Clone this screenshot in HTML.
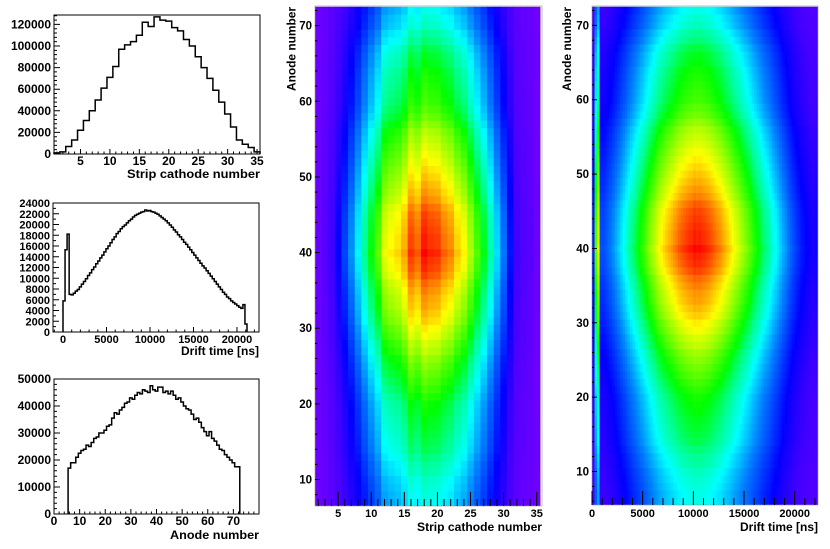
<!DOCTYPE html>
<html><head><meta charset="utf-8"><style>
html,body{margin:0;padding:0;background:#fff;}
svg{display:block;font-family:"Liberation Sans",Arial,sans-serif;font-weight:bold;}
</style></head><body>
<svg id="fig" width="830" height="549" viewBox="0 0 830 549" xmlns="http://www.w3.org/2000/svg">
<rect x="0" y="0" width="830" height="549" fill="#fff"/>
</svg>
<script>
// ---------- data ----------
const stripCounts=[1000,2000,7000,13000,22000,31000,40000,50000,61000,71000,81000,97000,101000,104000,110000,122000,118000,127000,124000,123000,117000,114000,106000,100000,90000,80000,70000,59000,48000,37000,25000,13000,9000,6000,2000]; // strips 1..35
const driftCounts=[5800,15300,18200,7000,6900,7200,7600,7900,8400,8900,9400,9900,10500,11000,11600,12100,12700,13200,13800,14300,14900,15500,16000,16600,17200,17700,18300,18700,19200,19600,19900,20300,20700,21000,21400,21700,21900,22100,22300,22400,22700,22500,22600,22400,22300,22100,21900,21600,21300,21000,20700,20300,19900,19500,19000,18600,18100,17700,17200,16700,16300,15800,15300,14800,14300,13800,13300,12800,12300,11900,11400,10900,10400,9900,9400,8900,8400,7900,7400,7000,6500,6200,5800,5500,5200,4900,4600,4400,5100,1500]; // drift-time bins from 0
const anodeCounts=[17000,19000,19000,21000,22500,23500,24000,25500,25000,26500,28000,28500,30000,30000,31000,32500,33000,35500,37500,37000,38500,39500,41000,41500,43000,42500,44000,45000,44500,46000,45500,45000,47500,46000,45500,47000,47000,45000,45500,44500,45500,44000,42500,43000,41500,40000,39000,38500,37000,35000,35500,34000,32000,30500,29000,30500,28000,27000,25500,24000,23500,22000,21000,20000,19000,17500,17500]; // anode 6..72
const rowPeak=[0.42,0.42,0.43,0.44,0.45,0.47,0.48,0.5,0.52,0.53,0.54,0.55,0.56,0.57,0.58,0.6,0.62,0.64,0.66,0.68,0.7,0.73,0.75,0.78,0.8,0.83,0.85,0.87,0.88,0.9,0.92,0.95,0.97,0.98,1.0,0.98,0.98,0.97,0.96,0.95,0.93,0.9,0.88,0.86,0.84,0.82,0.8,0.78,0.76,0.74,0.72,0.69,0.66,0.64,0.62,0.61,0.6,0.59,0.58,0.56,0.55,0.53,0.5,0.48,0.45,0.44,0.42]; // anode 6..72
const stripTicks=[5,10,15,20,25,30,35];
const stripCountTicks=[0,20000,40000,60000,80000,100000,120000];
const driftTicks=[0,5000,10000,15000,20000];
const driftCountTicks=[0,2000,4000,6000,8000,10000,12000,14000,16000,18000,20000,22000,24000];
const anodeTicks=[0,10,20,30,40,50,60,70];
const anodeCountTicks=[0,10000,20000,30000,40000,50000];
const heatAnodeTicks=[10,20,30,40,50,60,70];
const firstStrip=1, firstAnode=6, driftBin=235, heatDriftBin=250;

// ---------- helpers ----------
const NS="http://www.w3.org/2000/svg";
const svg=document.getElementById('fig');
function mk(tag,attrs,parent){const e=document.createElementNS(NS,tag);for(const k in attrs)e.setAttribute(k,attrs[k]);(parent||svg).appendChild(e);return e;}
function lin(d0,d1,p0,p1){return v=>p0+(v-d0)*(p1-p0)/(d1-d0);}
const stops=[[0,[112,0,255]],[0.1,[64,0,255]],[0.18,[0,0,255]],[0.3,[0,128,255]],[0.4,[0,255,255]],[0.48,[0,255,144]],[0.56,[0,255,0]],[0.68,[144,255,0]],[0.78,[255,255,0]],[0.88,[255,144,0]],[1,[255,0,0]]];
function pal(v){v=Math.max(0,Math.min(1,v));for(let i=1;i<stops.length;i++){if(v<=stops[i][0]){const a=stops[i-1],b=stops[i];const t=(v-a[0])/(b[0]-a[0]);const c=a[1].map((x,j)=>Math.round(x+(b[1][j]-x)*t));return 'rgb('+c.join(',')+')';}}return 'rgb(255,0,0)';}
function txt(x,y,s,anchor,size,g){const t=mk('text',{x:x,y:y,'text-anchor':anchor,'font-size':size,fill:'#000'},g);t.textContent=s;return t;}

// ---------- histogram panel ----------
function histPanel(name,fr,xd,yd,edges,vals,xT,xMinor,yT,yMinor,title,titleLen,fs,xLabelY,titleY){
  const g=mk('g',{});
  
  
  const X=lin(xd[0],xd[1],fr.x0,fr.x1), Y=lin(yd[0],yd[1],fr.y1,fr.y0);
  let d='M'+X(edges[0]).toFixed(2)+','+Y(0).toFixed(2);
  for(let i=0;i<vals.length;i++){d+=' L'+X(edges[i]).toFixed(2)+','+Y(vals[i]).toFixed(2)+' L'+X(edges[i+1]).toFixed(2)+','+Y(vals[i]).toFixed(2);}
  d+=' L'+X(edges[vals.length]).toFixed(2)+','+Y(0).toFixed(2);
  const p=mk('path',{d:d,fill:'none',stroke:'#000','stroke-width':1.5},g);
  
  
  const f=mk('rect',{x:fr.x0,y:fr.y0,width:fr.x1-fr.x0,height:fr.y1-fr.y0,fill:'none',stroke:'#000','stroke-width':1},g);
  
  
  let td='';
  for(let v=Math.ceil(xd[0]/xMinor)*xMinor;v<=xd[1];v+=xMinor){const px=X(v);const major=xT.some(t=>Math.abs(t-v)<1e-6);td+='M'+px.toFixed(2)+','+fr.y1+' v'+(major?-5:-2.5)+' ';}
  for(let v=0;v<=yd[1];v+=yMinor){const py=Y(v);const major=yT.some(t=>Math.abs(t-v)<1e-6);td+='M'+fr.x0+','+py.toFixed(2)+' h'+(major?6:3)+' ';}
  const tk=mk('path',{d:td,stroke:'#000','stroke-width':1,fill:'none'},g);
  
  
  xT.forEach(v=>{const t=txt(X(v),xLabelY,String(v),'middle',fs,g);
    
    });
  yT.forEach(v=>{const t=txt(fr.x0-3,Y(v)+4,String(v),'end',fs,g);
    
    });
  const tt=txt(fr.x1,titleY,title,'end',12,g);
  tt.setAttribute('textLength',titleLen);
  tt.setAttribute('lengthAdjust','spacingAndGlyphs');
  
  
}
const stripEdges=stripCounts.map((_,i)=>firstStrip+i-0.5).concat([firstStrip+stripCounts.length-0.5]);
histPanel('strip-cathode-histogram',{x0:54,x1:260,y0:15,y1:154},[0.5,35.5],[0,128700],stripEdges,stripCounts,stripTicks,1,stripCountTicks,4000,'Strip cathode number',133,12,165,178);
const driftEdges=driftCounts.map((_,i)=>i*driftBin).concat([driftCounts.length*driftBin]);
histPanel('drift-time-histogram',{x0:53,x1:259,y0:203,y1:332},[-1150,22530],[0,24000],driftEdges,driftCounts,driftTicks,1000,driftCountTicks,1000,'Drift time [ns]',78,11,343,355);
const anodeEdges=anodeCounts.map((_,i)=>firstAnode+i-0.5).concat([firstAnode+anodeCounts.length-0.5]);
histPanel('anode-histogram',{x0:54,x1:259,y0:379,y1:514},[0,80],[0,50000],anodeEdges,anodeCounts,anodeTicks,2,anodeCountTicks,2000,'Anode number',89,12,525,539);

// ---------- heatmaps ----------
function heatPanel(name,fr,xd,yd,xEdges,xVals,xT,xMinor,xTitle,xTitleLen,ytx,gamma){
  const g=mk('g',{});
  
  
  const cid=name+'-clip';
  const cp=mk('clipPath',{id:cid},g);
  mk('rect',{x:fr.x0,y:fr.y0,width:fr.x1-fr.x0,height:fr.y1-fr.y0},cp);
  const cells=mk('g',{'clip-path':'url(#'+cid+')'},g);
  
  
  const X=lin(xd[0],xd[1],fr.x0,fr.x1), Y=lin(yd[0],yd[1],fr.y1,fr.y0);
  const xmax=Math.max(...xVals);
  for(let a=0;a<rowPeak.length;a++){
    const an=firstAnode+a;const ya=Y(an+0.5), yb=Y(an-0.5);
    for(let i=0;i<xVals.length;i++){
      const xa=X(xEdges[i]), xb=X(xEdges[i+1]);
      const v=rowPeak[a]*Math.pow(xVals[i]/xmax,gamma);
      const r=mk('rect',{x:xa.toFixed(2),y:ya.toFixed(2),width:(xb-xa+0.4).toFixed(2),height:(yb-ya+0.4).toFixed(2),fill:pal(v)},cells);
      
      
    }
  }
  const f=mk('rect',{x:fr.x0,y:fr.y0,width:fr.x1-fr.x0,height:fr.y1-fr.y0,fill:'none',stroke:'#999','stroke-width':0.6},g);
  
  
  let td='';
  for(let v=Math.ceil(xd[0]/xMinor)*xMinor;v<=xd[1];v+=xMinor){const px=X(v);const major=xT.some(t=>Math.abs(t-v)<1e-6);td+='M'+px.toFixed(2)+','+fr.y1+' v'+(major?-14:-7)+' ';}
  for(let v=Math.ceil(yd[0]/2)*2;v<=yd[1];v+=2){const py=Y(v);const major=v%10===0;td+='M'+fr.x0+','+py.toFixed(2)+' h'+(major?5:2.5)+' ';}
  const tk=mk('path',{d:td,stroke:'#000','stroke-width':1,fill:'none'},g);
  
  
  xT.forEach(v=>{const t=txt(X(v),517,String(v),'middle',11,g);
    
    });
  heatAnodeTicks.forEach(v=>{const t=txt(fr.x0-3,Y(v)+4,String(v),'end',11.5,g);
    
    });
  const tt=txt(fr.x1,531,xTitle,'end',12,g);
  tt.setAttribute('textLength',xTitleLen);
  tt.setAttribute('lengthAdjust','spacingAndGlyphs');
  
  
  const yt=txt(0,0,'Anode number','end',12,g);
  yt.setAttribute('transform','translate('+ytx+',7) rotate(-90)');
  yt.setAttribute('textLength',84);
  yt.setAttribute('lengthAdjust','spacingAndGlyphs');
  
  
}
heatPanel('strip-vs-anode-heatmap',{x0:315,x1:542,y0:6,y1:506},[1.5,35.8],[6.5,72.6],stripEdges,stripCounts,stripTicks,1,'Strip cathode number',125,295.5,1);
const heatDriftEdges=driftCounts.map((_,i)=>i*heatDriftBin).concat([driftCounts.length*heatDriftBin]);
heatPanel('drift-vs-anode-heatmap',{x0:592,x1:818,y0:6,y1:505},[0,22300],[5.5,72.6],heatDriftEdges,driftCounts,driftTicks,1000,'Drift time [ns]',78,571,1.15);
</script>
</body></html>
